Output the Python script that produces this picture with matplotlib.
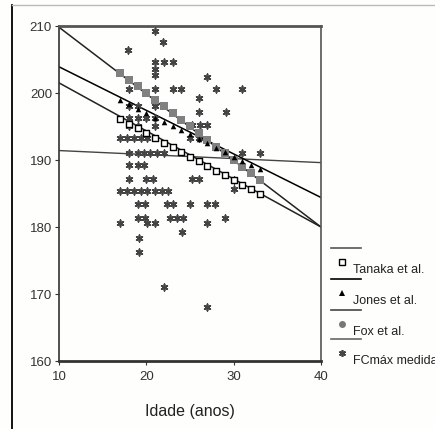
import numpy as np
import matplotlib
matplotlib.use('Agg')
import matplotlib.pyplot as plt
from matplotlib.lines import Line2D

plt.rcParams['font.family'] = ['Liberation Sans', 'DejaVu Sans']

# FCmáx medida (idade, fc)
idade_med = [17.9, 21.0, 21.9, 21.0, 22.0, 23.0, 21.0, 21.0, 27.0, 18.0, 21.0, 23.1, 24.0, 28.0, 31.0,
             26.0, 18.0, 19.0, 21.0, 26.0, 29.1, 18.0, 19.0, 20.0, 21.0, 25.2, 26.1, 27.0, 18.0, 19.0,
             21.0, 17.0, 17.8, 18.6, 19.4, 20.1, 25.0, 26.0, 18.0, 19.0, 19.7, 20.4, 21.2, 22.0, 31.0,
             33.0, 18.0, 19.0, 19.7, 18.0, 20.0, 20.8, 25.2, 26.0, 30.0, 30.0, 17.0, 17.8, 18.6, 19.4,
             20.1, 21.0, 21.8, 22.5, 19.1, 19.9, 22.4, 23.1, 25.0, 27.0, 27.9, 19.1, 19.9, 22.7, 23.5,
             24.2, 29.0, 17.0, 20.1, 21.0, 27.0, 24.1, 19.2, 19.2, 22.0, 27.0]
fc_med = [206.4, 209.3, 207.6, 204.6, 204.6, 204.6, 203.6, 202.6, 202.4, 200.6, 200.6, 200.6, 200.6, 200.6, 200.6,
          199.3, 198.0, 198.0, 198.0, 197.1, 197.1, 196.3, 196.3, 196.3, 196.3, 195.2, 195.2, 195.2, 195.0, 195.0,
          195.0, 193.2, 193.2, 193.2, 193.2, 193.2, 193.2, 193.2, 191.1, 191.1, 191.1, 191.1, 191.1, 191.1, 191.1,
          191.1, 189.3, 189.3, 189.3, 187.1, 187.1, 187.1, 187.1, 187.1, 187.0, 185.6, 185.3, 185.3, 185.3, 185.3,
          185.3, 185.3, 185.3, 185.3, 183.4, 183.4, 183.4, 183.4, 183.4, 183.4, 183.4, 181.4, 181.4, 181.4, 181.4,
          181.4, 181.4, 180.6, 180.6, 180.6, 180.6, 179.3, 178.3, 176.2, 171.0, 168.0]

# valores previstos pelas equações
idade_prev = [17, 18, 19, 20, 21, 22, 23, 24, 25, 26, 27, 28, 29, 30, 31, 32, 33]
fc_tanaka = [196.1, 195.4, 194.7, 194.0, 193.3, 192.6, 191.9, 191.2, 190.5, 189.8, 189.1, 188.4, 187.7, 187.0,
             186.3, 185.6, 184.9]
fc_jones = [198.9, 198.3, 197.6, 197.0, 196.3, 195.7, 195.0, 194.4, 193.8, 193.1, 192.5, 191.8, 191.2, 190.5,
            189.9, 189.2, 188.6]
fc_fox = [203.0, 202.0, 201.0, 200.0, 199.0, 198.0, 197.0, 196.0, 195.0, 194.0, 193.0, 192.0, 191.0, 190.0,
          189.0, 188.0, 187.0]

# retas de ajuste (idade 10 e 40)
x_reta = [10, 40]
reta_tanaka = [201.5, 180.0]
reta_jones = [203.9, 184.4]
reta_fox = [209.8, 180.0]
reta_med = [191.4, 189.6]

fig = plt.figure(figsize=(4.351, 4.291), dpi=100)
fig.patch.set_facecolor('#fefefc')
ax = fig.add_axes([0.1356, 0.1585, 0.602, 0.7809])
ax.set_facecolor('#fefefc')

ax.plot(x_reta, reta_med, color='#444444', lw=1.0)
ax.plot(x_reta, reta_fox, color='#222222', lw=1.1)
ax.plot(x_reta, reta_jones, color='black', lw=1.1)
ax.plot(x_reta, reta_tanaka, color='#222222', lw=1.1)

ax.scatter(idade_med, fc_med, marker=(6, 2, 0), s=22, color='#444444', linewidths=1.2, zorder=3)
ax.scatter(idade_prev, fc_fox, marker='s', s=34, color='#808080', linewidths=0, zorder=4)
ax.scatter(idade_prev, fc_jones, marker='^', s=16, color='black', linewidths=0, zorder=4)
ax.scatter(idade_prev, fc_tanaka, marker='s', s=16, facecolor='white', edgecolor='black', linewidths=1.0, zorder=5)

ax.set_xlim(10, 40)
ax.set_ylim(160, 210)
ax.set_xticks([10, 20, 30, 40])
ax.set_yticks([160, 170, 180, 190, 200, 210])
ax.tick_params(labelsize=9.5, length=3, width=0.8, colors='#333333', pad=2)
ax.tick_params(axis='x', pad=4)
ax.set_xlabel('Idade (anos)', fontsize=11.5, labelpad=15, color='#222222')

for s in ['left', 'bottom']:
    ax.spines[s].set_color('#333333')
ax.spines['left'].set_linewidth(1.2)
ax.spines['bottom'].set_linewidth(2.0)
ax.spines['top'].set_color('#555555')
ax.spines['top'].set_linewidth(2.0)
ax.spines['right'].set_color('#555555')
ax.spines['right'].set_linewidth(1.2)

# legenda no estilo SPSS
tr = ax.transAxes
leg_lines = [0.337, 0.245, 0.152, 0.066]
leg_cols = ['#555555', 'black', '#444444', '#666666']
leg_text = ['Tanaka et al.', 'Jones et al.', 'Fox et al.', 'FCmáx medida']
leg_mark = [dict(marker='s', ms=4, mfc='white', mec='black', mew=1.0),
            dict(marker='^', ms=4, mfc='black', mec='black', mew=0),
            dict(marker='o', ms=5, mfc='#777777', mec='#777777', mew=0),
            dict(marker=(6, 2, 0), ms=5, mfc='#444444', mec='#444444', mew=1.2)]
for i in range(4):
    ax.add_line(Line2D([1.038, 1.153], [leg_lines[i]] * 2, transform=tr, color=leg_cols[i], lw=1.2, clip_on=False))
    ax.add_line(Line2D([1.080], [leg_lines[i] - 0.041], transform=tr, ls='none', clip_on=False, **leg_mark[i]))
    ax.text(1.122, leg_lines[i] - 0.065, leg_text[i], transform=tr, fontsize=9, color='#222222',
            va='center', ha='left', clip_on=False)

# moldura da figura
fig.add_artist(Line2D([0.0276, 0.0276], [0, 0.988], transform=fig.transFigure, color='black', lw=1.3))
fig.add_artist(Line2D([0.0276, 1.0], [0.988, 0.988], transform=fig.transFigure, color='#bbbbbb', lw=1.0))

fig.savefig('out.png', dpi=100, facecolor=fig.get_facecolor())
